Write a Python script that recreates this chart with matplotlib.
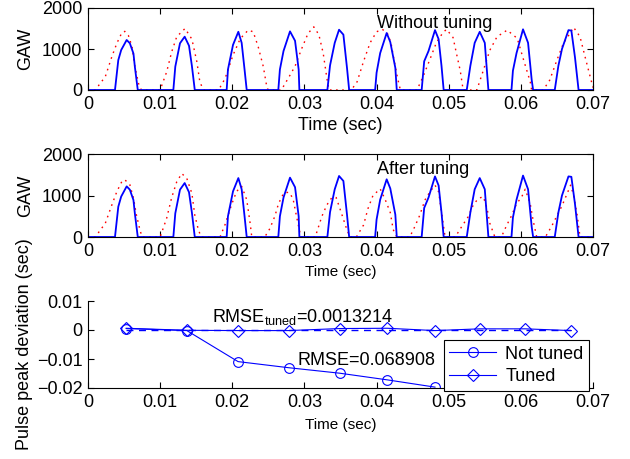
import matplotlib
matplotlib.use("Agg")
import matplotlib.pyplot as plt

plt.rcParams['font.family'] = ['Liberation Sans', 'DejaVu Sans']
plt.rcParams['mathtext.fontset'] = 'custom'
plt.rcParams['mathtext.rm'] = 'Liberation Sans'
plt.rcParams['mathtext.it'] = 'Liberation Sans:italic'

# ---------------- data ----------------
# measured GAW (blue, identical in both panels)
blue_t = [0, 0.00374, 0.0042, 0.0046, 0.00536, 0.0058, 0.0063, 0.0065, 0.0069,
          0.01183, 0.0121, 0.01275, 0.0134, 0.0140, 0.0144, 0.0148,
          0.01922, 0.0194, 0.0201, 0.02084, 0.0213, 0.0217, 0.0220,
          0.02638, 0.0266, 0.0271, 0.0280, 0.0287, 0.0292, 0.0293,
          0.03318, 0.03355, 0.0342, 0.0348, 0.0354, 0.0359, 0.0362,
          0.0398, 0.0400, 0.0405, 0.0414, 0.0419, 0.0426, 0.0428,
          0.04625, 0.0466, 0.0472, 0.0481, 0.0486, 0.0490, 0.0493,
          0.0525, 0.0530, 0.0536, 0.0543, 0.0550, 0.0555,
          0.0587, 0.0589, 0.0594, 0.0603, 0.0610, 0.0615, 0.0617,
          0.0647, 0.0652, 0.0657, 0.0666, 0.0670, 0.0675, 0.0680, 0.07]
blue_v = [0, 0, 730, 975, 1220, 1140, 890, 560, 0,
          0, 570, 1140, 1300, 1080, 590, 0,
          0, 500, 1100, 1420, 1150, 500, 0,
          0, 500, 950, 1430, 1200, 500, 0,
          0, 600, 1150, 1470, 1350, 540, 0,
          0, 420, 900, 1390, 1170, 540, 0,
          0, 700, 950, 1460, 1240, 590, 0,
          0, 590, 1150, 1420, 1150, 0,
          0, 470, 900, 1480, 1150, 250, 0,
          0, 590, 1000, 1460, 1450, 800, 0, 0]

# model GAW without tuning (red dotted, top panel)
red1_t = [0, 0.0010, 0.0024, 0.0033, 0.0040, 0.0047, 0.0051, 0.0056, 0.0061, 0.0065, 0.0070, 0.0074,
          0.0100, 0.0109, 0.0116, 0.0123, 0.01345, 0.0144, 0.0151, 0.0155, 0.0160,
          0.0181, 0.0190, 0.0201, 0.0211, 0.0222, 0.0229, 0.0236, 0.0243, 0.0248, 0.0250,
          0.0268, 0.0278, 0.0287, 0.0296, 0.0305, 0.0313, 0.0320, 0.0326, 0.0331, 0.0334,
          0.0365, 0.0373, 0.0382, 0.0391, 0.0400, 0.0408, 0.0415, 0.0420, 0.0424, 0.0429, 0.0433,
          0.0456, 0.0465, 0.0474, 0.0483, 0.0492, 0.0497, 0.0506, 0.0511, 0.0516, 0.0520,
          0.0539, 0.0548, 0.0557, 0.0567, 0.0581, 0.0595, 0.0603, 0.0613, 0.0615,
          0.0631, 0.0640, 0.0650, 0.0659, 0.0668, 0.0673, 0.0682, 0.0689, 0.0696, 0.0700]
red1_v = [0, 0, 325, 810, 1140, 1400, 1430, 1330, 1060, 570, 160, 0,
          0, 440, 930, 1300, 1500, 1240, 680, 200, 0,
          0, 280, 850, 1250, 1460, 1420, 1050, 570, 60, 0,
          0, 300, 580, 1000, 1380, 1540, 1350, 900, 300, 0,
          0, 200, 700, 1150, 1420, 1480, 1380, 1150, 750, 300, 0,
          0, 350, 750, 1160, 1400, 1480, 1280, 870, 470, 0,
          0, 480, 970, 1300, 1460, 1260, 780, 200, 0,
          0, 240, 730, 1140, 1380, 1530, 1300, 810, 330, 60]

# model GAW after tuning (red dotted, middle panel)
red2_t = [0, 0.0010, 0.0024, 0.0033, 0.0040, 0.0047, 0.0051, 0.0058, 0.0063, 0.0067, 0.0072, 0.0075,
          0.0100, 0.0109, 0.0116, 0.0123, 0.0130, 0.0137, 0.0144, 0.0148, 0.0153, 0.0157,
          0.0183, 0.0190, 0.0199, 0.0206, 0.0213, 0.0220, 0.0225, 0.0227,
          0.0245, 0.0252, 0.0259, 0.0264, 0.0271, 0.0278, 0.0284, 0.0289, 0.0294, 0.0296,
          0.0315, 0.0324, 0.0331, 0.0338, 0.0344, 0.0351, 0.0358, 0.0363,
          0.0372, 0.0382, 0.0388, 0.0395, 0.0405, 0.0412, 0.0419, 0.0423, 0.0428,
          0.0446, 0.0453, 0.0460, 0.0467, 0.0474, 0.0481, 0.0486, 0.0490, 0.0495,
          0.0509, 0.0518, 0.0527, 0.0534, 0.0541, 0.0548, 0.0553, 0.0557, 0.0564,
          0.0573, 0.0580, 0.0587, 0.0594, 0.0601, 0.0606, 0.0613, 0.0617, 0.0622,
          0.0634, 0.0643, 0.0650, 0.0657, 0.0664, 0.0669, 0.0673, 0.0678, 0.0682, 0.07]
red2_v = [0, 0, 330, 770, 1095, 1340, 1380, 1260, 940, 540, 170, 0,
          0, 450, 950, 1330, 1530, 1410, 1050, 530, 170, 0,
          0, 300, 780, 1100, 1220, 900, 300, 0,
          0, 200, 500, 800, 1050, 1080, 940, 500, 80, 0,
          0, 490, 770, 950, 950, 590, 220, 0,
          0, 290, 680, 1000, 1160, 900, 590, 180, 0,
          0, 250, 530, 890, 1090, 1250, 1090, 600, 0,
          0, 250, 490, 770, 930, 970, 700, 330, 0,
          0, 270, 510, 800, 960, 1150, 800, 400, 0,
          0, 270, 510, 750, 1040, 1250, 1010, 530, 0, 0]

# pulse peak deviation
peak_t = [0.0053, 0.0137, 0.0208, 0.0278, 0.0349, 0.0415, 0.0481, 0.0543, 0.0606, 0.0670]
not_tuned_dev = [0.0005, -0.0002, -0.0109, -0.0130, -0.0149, -0.0172, -0.0197]
tuned_dev = [0.0006, -0.0001, -0.0002, -0.0002, 0.0005, 0.0006, -0.0002, 0.0004, 0.0004, -0.0002]
zero_t = [0.0053, 0.0670]
zero_v = [0, 0]

x_ticks = [0, 0.01, 0.02, 0.03, 0.04, 0.05, 0.06, 0.07]
x_tick_labels = ['0', '0.01', '0.02', '0.03', '0.04', '0.05', '0.06', '0.07']
gaw_ticks = [0, 1000, 2000]
gaw_tick_labels = ['0', '1000', '2000']
dev_ticks = [-0.02, -0.01, 0, 0.01]
dev_tick_labels = ['\u22120.02', '\u22120.01', '0', '0.01']

rmse_tuned_label = r'RMSE$_{\mathrm{tuned}}$=0.0013214'
rmse_label = 'RMSE=0.068908'

# ---------------- figure ----------------
fig = plt.figure(figsize=(6.3, 4.59), dpi=100)
W, H = 630.0, 459.0

def pos(l, t, r, b):
    return [l / W, 1 - b / H, (r - l) / W, (b - t) / H]

ax1 = fig.add_axes(pos(88, 8, 593, 90))
ax2 = fig.add_axes(pos(88, 154, 593, 237))
ax3 = fig.add_axes(pos(88, 301, 593, 388))

FS = 13
for ax, red_t, red_v, title, xfs, lp in [(ax1, red1_t, red1_v, 'Without tuning', 13, 3),
                                          (ax2, red2_t, red2_v, 'After tuning', 11, 4)]:
    ax.plot(red_t, red_v, color='red', linestyle=(0, (1.2, 3.2)), lw=1.0)
    ax.plot(blue_t, blue_v, color='blue', lw=1.3)
    ax.set_xlim(0, 0.07)
    ax.set_ylim(0, 2000)
    ax.set_xticks(x_ticks)
    ax.set_xticklabels(x_tick_labels)
    ax.set_yticks(gaw_ticks)
    ax.set_yticklabels(gaw_tick_labels)
    ax.tick_params(direction='in', length=4, width=0.8, labelsize=FS, pad=4,
                   top=True, right=True)
    ax.set_xlabel('Time (sec)', fontsize=xfs, labelpad=lp)
    ax.set_ylabel('GAW', fontsize=FS, labelpad=6)
    ax.text(0.0401, 1510, title, fontsize=FS)
    for s in ax.spines.values():
        s.set_linewidth(0.8)

# bottom panel
ax3.plot(zero_t, zero_v, color='blue', lw=1.0, linestyle=(0, (5, 4)))
l1, = ax3.plot(peak_t[:len(not_tuned_dev)], not_tuned_dev, color='blue', lw=0.8,
               marker='o', markersize=7, markerfacecolor='none', markeredgewidth=0.8)
l2, = ax3.plot(peak_t, tuned_dev, color='blue', lw=0.8,
               marker='D', markersize=6, markerfacecolor='none', markeredgewidth=0.8)
ax3.set_xlim(0, 0.07)
ax3.set_ylim(-0.02, 0.01)
ax3.set_xticks(x_ticks)
ax3.set_xticklabels(x_tick_labels)
ax3.set_yticks(dev_ticks)
ax3.set_yticklabels(dev_tick_labels)
ax3.spines['top'].set_visible(False)
ax3.spines['right'].set_visible(False)
for s in ax3.spines.values():
    s.set_linewidth(0.8)
ax3.tick_params(direction='in', length=4, width=0.8, labelsize=FS, pad=4)
ax3.set_xlabel('Time (sec)', fontsize=11, labelpad=5)
ax3.set_ylabel('Pulse peak deviation (sec)', fontsize=FS)
ax3.yaxis.set_label_coords(-0.109, 0.5)
ax3.text(0.0172, 0.0029, rmse_tuned_label, fontsize=FS)
ax3.text(0.0290, -0.0121, rmse_label, fontsize=FS)
leg = ax3.legend([l1, l2], ['Not tuned', 'Tuned'], fontsize=FS, loc='lower right',
                 bbox_to_anchor=(0.992, -0.03), borderaxespad=0, fancybox=False,
                 framealpha=1, edgecolor='black', handlelength=2.6, borderpad=0.3,
                 labelspacing=0.3, handletextpad=0.5)
leg.get_frame().set_linewidth(0.8)

fig.savefig('out.png', dpi=100)
